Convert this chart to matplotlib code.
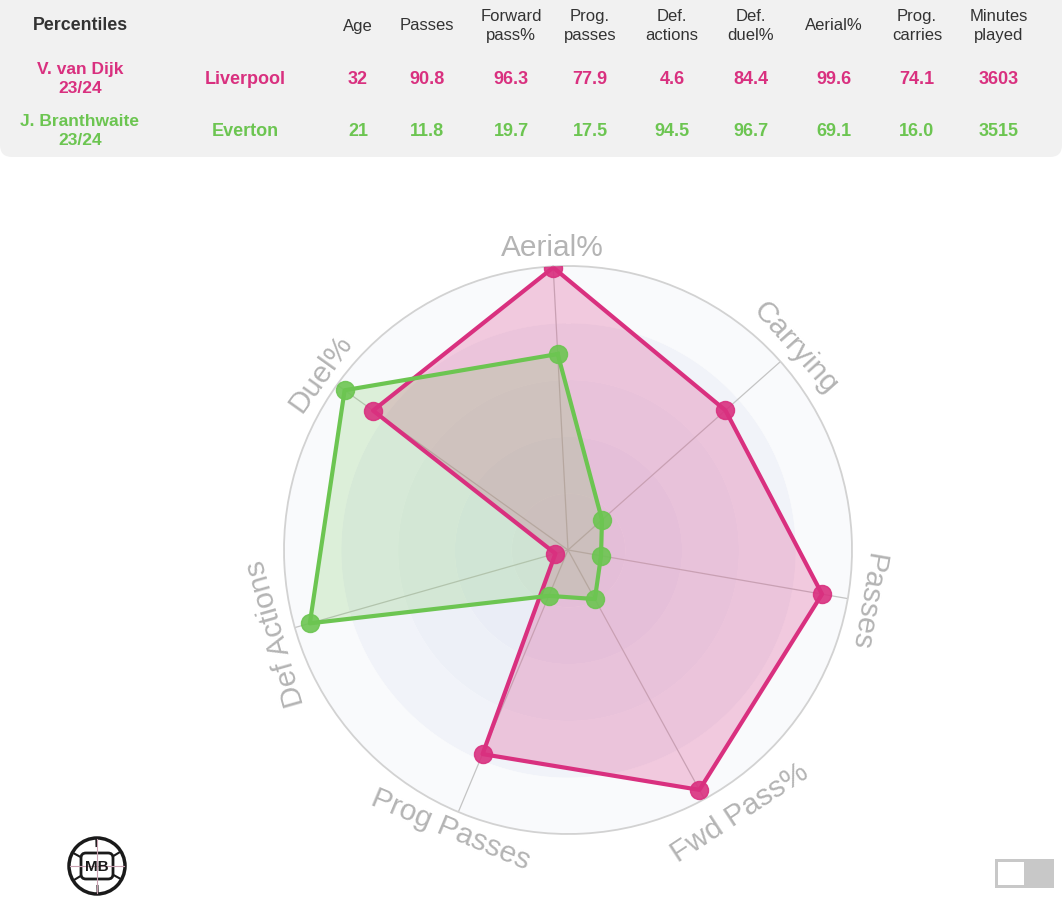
import numpy as np
import matplotlib
matplotlib.use('Agg')
import matplotlib.pyplot as plt
from matplotlib.patches import FancyBboxPatch, Circle, Rectangle

plt.rcParams['font.family'] = ['Liberation Sans', 'DejaVu Sans']

# table data
headers = ['Age', 'Passes', 'Forward\npass%', 'Prog.\npasses', 'Def.\nactions',
           'Def.\nduel%', 'Aerial%', 'Prog.\ncarries', 'Minutes\nplayed']
players = ['V. van Dijk\n23/24', 'J. Branthwaite\n23/24']
clubs = ['Liverpool', 'Everton']
vdijk_row = [32, 90.8, 96.3, 77.9, 4.6, 84.4, 99.6, 74.1, 3603]
branth_row = [21, 11.8, 19.7, 17.5, 94.5, 96.7, 69.1, 16.0, 3515]

# radar data (clockwise from top)
radar_labels = ['Aerial%', 'Carrying', 'Passes', 'Fwd Pass%', 'Prog Passes', 'Def Actions', 'Duel%']
vdijk = [99.6, 74.1, 90.8, 96.3, 77.9, 4.6, 84.4]
branth = [69.1, 16.0, 11.8, 19.7, 17.5, 94.5, 96.7]

pink = '#d9307f'
green = '#6cc551'

W, H = 1064, 900
fig = plt.figure(figsize=(W / 100, H / 100), dpi=100)
fig.patch.set_facecolor('white')

# overlay in pixel coords for the table and decorations
ax0 = fig.add_axes([0, 0, 1, 1], zorder=0)
ax0.set_xlim(0, W)
ax0.set_ylim(H, 0)
ax0.axis('off')

ax0.add_patch(FancyBboxPatch((0, -30), 1062, 187, boxstyle='round,pad=0,rounding_size=12',
                             fc='#f1f1f1', ec='none'))
ax0.text(80, 26, 'Percentiles', ha='center', va='center', fontsize=12.8,
         fontweight='bold', color='#333333')
col_x = [358, 427, 511, 590, 672, 751, 834, 917, 999]
for x, h in zip(col_x, headers):
    ax0.text(x, 26, h, ha='center', va='center', fontsize=12, color='#333333',
             linespacing=1.3)

for row, name, club, y, c in [(vdijk_row, players[0], clubs[0], 79, pink),
                               (branth_row, players[1], clubs[1], 131, green)]:
    ax0.text(80, y, name, ha='center', va='center', fontsize=12.5, fontweight='bold',
             color=c, linespacing=1.3)
    ax0.text(245, y, club, ha='center', va='center', fontsize=13, fontweight='bold', color=c)
    for x, v in zip(col_x, row):
        ax0.text(x, y, str(v), ha='center', va='center', fontsize=13,
                 fontweight='bold', color=c)

# logo bottom-left
ax0.add_patch(Circle((97, 866), 28, fill=False, ec='#1a1a1a', lw=2.5))
for a in np.linspace(0, 2 * np.pi, 6, endpoint=False):
    ax0.plot([97 + 20 * np.cos(a + 0.5), 97 + 27 * np.cos(a + 0.5)],
             [866 + 20 * np.sin(a + 0.5), 866 + 27 * np.sin(a + 0.5)], color='#1a1a1a', lw=1.5)
ax0.plot([70, 124], [866, 866], color='#c9a0b0', lw=0.8)
ax0.plot([97, 97], [839, 893], color='#c9a0b0', lw=0.8)
ax0.add_patch(FancyBboxPatch((81, 853), 32, 26, boxstyle='round,pad=0,rounding_size=5',
                             fc='white', ec='#1a1a1a', lw=2))
ax0.text(97, 867, 'MB', ha='center', va='center', fontsize=11, fontweight='bold', color='#1a1a1a')

# toggle bottom-right
ax0.add_patch(Rectangle((995, 859), 59, 29, fc='#c8c8c8', ec='none'))
ax0.add_patch(Rectangle((998, 862), 26, 23, fc='white', ec='none'))

# radar
cx, cy, R = 568, 550, 284
ax = fig.add_axes([(cx - R) / W, (H - cy - R) / H, 2 * R / W, 2 * R / H],
                  projection='polar', zorder=1)
ax.set_theta_offset(np.deg2rad(93))
ax.set_theta_direction(-1)
ax.set_ylim(0, 100)
ax.set_facecolor('#f9fafc')

t = np.linspace(0, 2 * np.pi, 300)
ring_cols = ['#e8ebf4', '#eaedf6', '#edf0f7', '#f1f3f9', '#f9fafc']
for i, c in enumerate(ring_cols):
    ax.fill_between(t, i * 20, (i + 1) * 20, color=c, lw=0, zorder=0.5)

n = len(radar_labels)
theta = np.arange(n) * 2 * np.pi / n
ax.set_xticks(theta)
ax.set_xticklabels([])
ax.set_yticks([])
ax.xaxis.grid(True, color='#c4c4c4', lw=0.9)
ax.spines['polar'].set_color('#d2d2d2')
ax.spines['polar'].set_linewidth(1.3)

th = np.append(theta, theta[0])
for vals, c, fa in [(vdijk, pink, 0.24), (branth, green, 0.2)]:
    v = np.append(vals, vals[0])
    ax.fill(th, v, color=c, alpha=fa, lw=0, zorder=2)
    ax.plot(th, v, color=c, lw=3, zorder=3)
    ax.plot(theta, vals, 'o', color=c, ms=13, alpha=0.9, mec=c, mew=1, zorder=4)

# label placement nudges (degrees, radius)
lab_shift = [0, 0, 0, 4.5, 0, 0, 0]
lab_r = [106.5, 107, 107, 110.5, 107, 107, 107]
for i, lab in enumerate(radar_labels):
    a = 93 - i * 360 / n
    a = (a + 180) % 360 - 180
    rot = a + 90 if -150 < a < -30 else a - 90
    if i == 0:
        rot = 0
    rot += lab_shift[i]
    ax.text(theta[i] - np.deg2rad(lab_shift[i]), lab_r[i], lab, rotation=rot,
            rotation_mode='anchor', ha='center', va='center', fontsize=21.5, color='#b4b4b4')

fig.savefig('out.png', dpi=100, facecolor='white')
